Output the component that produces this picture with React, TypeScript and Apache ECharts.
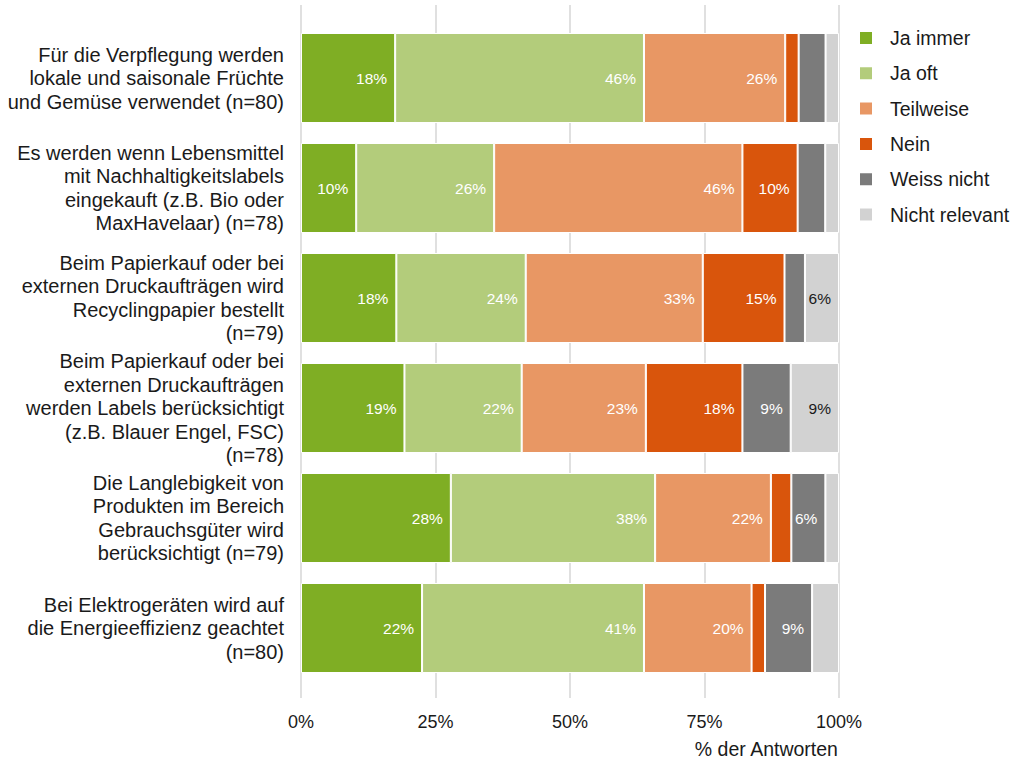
import React, { useEffect, useRef } from "react";
import * as echarts from "echarts";

const categories = [
  "Für die Verpflegung werden\nlokale und saisonale Früchte\nund Gemüse verwendet (n=80)",
  "Es werden wenn Lebensmittel\nmit Nachhaltigkeitslabels\neingekauft (z.B. Bio oder\nMaxHavelaar) (n=78)",
  "Beim Papierkauf oder bei\nexternen Druckaufträgen wird\nRecyclingpapier bestellt\n(n=79)",
  "Beim Papierkauf oder bei\nexternen Druckaufträgen\nwerden Labels berücksichtigt\n(z.B. Blauer Engel, FSC)\n(n=78)",
  "Die Langlebigkeit von\nProdukten im Bereich\nGebrauchsgüter wird\nberücksichtigt (n=79)",
  "Bei Elektrogeräten wird auf\ndie Energieeffizienz geachtet\n(n=80)",
];

const seriesNames = ["Ja immer", "Ja oft", "Teilweise", "Nein", "Weiss nicht", "Nicht relevant"];

const jaImmer = [17.5, 10.26, 17.72, 19.23, 27.85, 22.5];
const jaOft = [46.25, 25.64, 24.05, 21.79, 37.97, 41.25];
const teilweise = [26.25, 46.15, 32.91, 23.08, 21.52, 20.0];
const nein = [2.5, 10.26, 15.19, 17.95, 3.8, 2.5];
const weissNicht = [5.0, 5.13, 3.8, 8.97, 6.33, 8.75];
const nichtRelevant = [2.5, 2.56, 6.33, 8.97, 2.53, 5.0];

const xTicks = [0, 25, 50, 75, 100];

const colors = ["#7FAE24", "#B3CC7B", "#E89764", "#D9550C", "#7B7B7B", "#D2D2D2"];
const labelColors = ["#ffffff", "#ffffff", "#ffffff", "#ffffff", "#ffffff", "#1a1a1a"];

const FONT = "'Liberation Sans', Arial, Helvetica, sans-serif";

function roundHalfEven(v: number): number {
  const f = Math.floor(v);
  const d = v - f;
  if (Math.abs(d - 0.5) < 1e-9) return f % 2 === 0 ? f : f + 1;
  return Math.round(v);
}

export default function App() {
  const ref = useRef<HTMLDivElement>(null);
  useEffect(() => {
    if (!ref.current) return;
    const chart = echarts.init(ref.current, undefined, { renderer: "svg" });
    const allData = [jaImmer, jaOft, teilweise, nein, weissNicht, nichtRelevant];
    const left = 301;
    const right = 1013 - 839;
    chart.setOption({
      animation: false,
      textStyle: { fontFamily: FONT },
      title: {
        text: "% der Antworten",
        right: 1013 - 839,
        top: 739,
        padding: 0,
        textStyle: { fontFamily: FONT, fontSize: 19.5, fontWeight: "normal", color: "#1a1a1a" },
      },
      legend: {
        orient: "vertical",
        left: 853,
        top: 22,
        itemWidth: 14,
        itemHeight: 14,
        itemGap: 13.3,
        icon: "rect",
        data: seriesNames,
        textStyle: {
          fontFamily: FONT,
          fontSize: 19.5,
          color: "#1a1a1a",
          lineHeight: 22,
          padding: [0, 0, 0, 12],
        },
      },
      grid: [
        { left, right, top: 23, bottom: 762 - 683, containLabel: false },
        { left, right, top: 5, bottom: 762 - 698, containLabel: false },
      ],
      xAxis: [
        {
          gridIndex: 0,
          type: "value",
          min: 0,
          max: 100,
          interval: 25,
          show: false,
        },
        {
          gridIndex: 1,
          type: "value",
          min: xTicks[0],
          max: xTicks[xTicks.length - 1],
          interval: 25,
          axisLine: { show: false },
          axisTick: { show: false },
          splitLine: { show: true, lineStyle: { color: "#d6d6d6", width: 1.5 } },
          axisLabel: {
            margin: 15,
            fontFamily: FONT,
            fontSize: 18,
            color: "#1a1a1a",
            formatter: (v: number) => `${v}%`,
          },
        },
      ],
      yAxis: [
        {
          gridIndex: 0,
          type: "category",
          inverse: true,
          data: categories,
          axisLine: { show: false },
          axisTick: { show: false },
          axisLabel: {
            margin: 17,
            fontFamily: FONT,
            fontSize: 20,
            lineHeight: 23.5,
            color: "#1a1a1a",
            align: "right",
          },
        },
        {
          gridIndex: 1,
          type: "value",
          show: false,
        },
      ],
      series: seriesNames.map((name, i) => ({
        name,
        type: "bar",
        stack: "total",
        xAxisIndex: 0,
        yAxisIndex: 0,
        barWidth: 90,
        data: allData[i],
        itemStyle: { color: colors[i], borderColor: "#ffffff", borderWidth: 1 },
        label: {
          show: true,
          position: "insideRight",
          distance: 8,
          fontFamily: FONT,
          fontSize: 15.5,
          color: labelColors[i],
          formatter: (p: any) => (p.value >= 6 ? `${roundHalfEven(p.value)}%` : ""),
        },
      })),
    });
    return () => chart.dispose();
  }, []);
  return (
    <div
      ref={ref}
      style={{ position: "absolute", left: 0, top: 0, width: 1013, height: 762, overflow: "hidden" }}
    />
  );
}
